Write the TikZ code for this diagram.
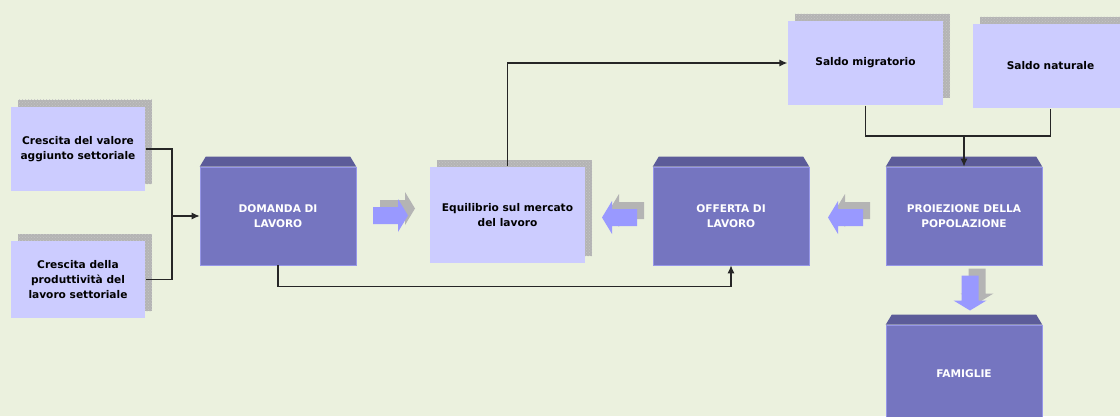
\documentclass[tikz,border=0pt]{standalone}
\usepackage{fontspec}
\setmainfont{DejaVu Sans}
\usetikzlibrary{shadows,patterns,arrows.meta}
\definecolor{bgcol}{RGB}{235,241,222}
\definecolor{lightbox}{RGB}{204,204,255}
\definecolor{darkbox}{RGB}{117,117,192}
\definecolor{darktop}{RGB}{92,92,153}
\definecolor{darkline}{RGB}{150,150,232}
\definecolor{bigarrow}{RGB}{153,153,255}
\definecolor{shadegray}{RGB}{180,180,180}

\begin{document}
\begin{tikzpicture}[x=1pt,y=1pt,
		line width=1.2pt,
		light box/.style = {rectangle, fill=lightbox, inner sep=0pt, align=center,
			font=\bfseries\fontsize{10.6}{15}\selectfont, minimum width=155pt,
			general shadow={shadow xshift=7pt,shadow yshift=7pt,fill=shadegray,
				postaction={pattern=crosshatch dots,pattern color=gray!45}}},
		dark box/.style = {rectangle, fill=darkbox, draw=darkline, line width=0.6pt,
			inner sep=0pt, align=center, text=white,
			font=\bfseries\fontsize{10.6}{15}\selectfont,
			minimum width=156pt, minimum height=98pt},
		link/.style = {draw=black!85, -{Latex[length=8pt,width=7pt]}}]
		
		\fill[bgcol] (0,0) rectangle (1120,416);
		\useasboundingbox (0,0) rectangle (1120,416);
		
		\node[light box,minimum width=134pt,minimum height=84pt] (valore) at (78,267) {Crescita del valore\\aggiunto settoriale};
		\node[light box,minimum width=134pt,minimum height=77pt] (produtt) at (78,136.5) {Crescita della\\produttività del\\lavoro settoriale};
		\node[dark box] (domanda) at (278,200) {DOMANDA DI\\LAVORO};
		\node[light box,minimum height=96pt] (equil) at (507.5,201) {Equilibrio sul mercato\\del lavoro};
		\node[dark box] (offerta) at (731,200) {OFFERTA DI\\LAVORO};
		\node[dark box] (proiez) at (964,200) {PROIEZIONE DELLA\\POPOLAZIONE};
		\node[dark box] (famiglie) at (964,42) {FAMIGLIE};
		\node[light box,minimum height=84pt] (migr) at (865.5,353) {Saldo migratorio};
		\node[light box,minimum height=84pt] (natur) at (1050.5,350) {Saldo naturale};
		
		% bevelled tops
		\foreach \n in {domanda,offerta,proiez,famiglie}
		\fill[darktop] (\n.north west) -- ++(6,10) -- ([xshift=-6pt,yshift=10pt]\n.north east) -- (\n.north east) -- cycle;
		
		% block arrows with their shadows
		\foreach \px/\py/\ang in {390.5/200.5/0, 619.5/198.5/180, 845.5/198.5/180, 970/123/-90} {
			\fill[shadegray,shift={(\px+7,\py+7)},rotate=\ang] (-17.5,-8.5) -- (7.5,-8.5) -- (7.5,-16.5) -- (17.5,0) -- (7.5,16.5) -- (7.5,8.5) -- (-17.5,8.5) -- cycle;
			\fill[bigarrow,shift={(\px,\py)},rotate=\ang] (-17.5,-8.5) -- (7.5,-8.5) -- (7.5,-16.5) -- (17.5,0) -- (7.5,16.5) -- (7.5,8.5) -- (-17.5,8.5) -- cycle;
		}
		
		\coordinate (growth) at (172,200);
		\coordinate (popjoin) at (964,280);
		
		\draw[draw=black!85] (valore.east) -| (growth);
		\draw[draw=black!85] (produtt.east) -| (growth);
		\draw[link] (growth) -- (domanda.west);
		\draw[link] (equil.north) |- (migr.west);
		\draw[draw=black!85] (migr.south) |- (popjoin) -| (natur.south);
		\draw[link] (popjoin) -- (proiez.north);
		\draw[link] (domanda.south) -- ++(0,-21) -| (offerta.south);
\end{tikzpicture}
\end{document}
